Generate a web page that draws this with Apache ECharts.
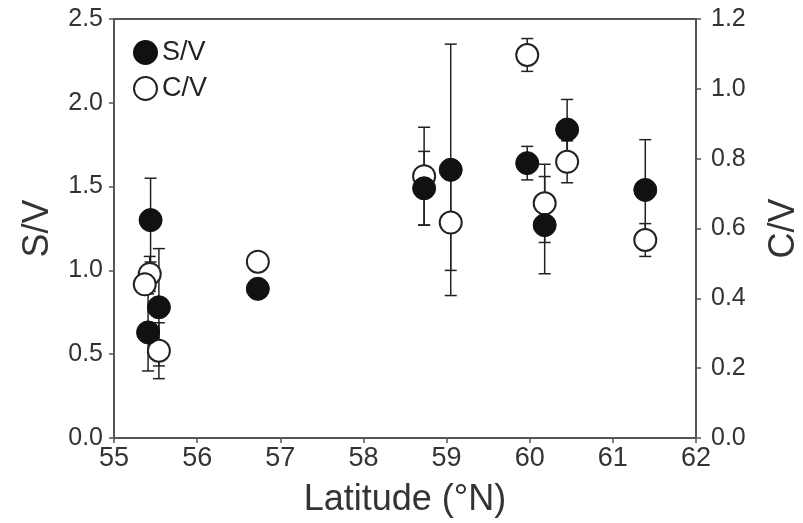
<!DOCTYPE html>
<html>
<head>
<meta charset="utf-8">
<script src="https://cdn.jsdelivr.net/npm/echarts@6/dist/echarts.min.js"></script>
<style>
  html,body{margin:0;padding:0;background:#fff;}
  #b{width:803px;height:523px;}
</style>
</head>
<body>
<div id="b"></div>
<script>
// S/V (filled circles, left axis)
var svLat = [55.44, 55.41, 55.54, 56.73, 58.73, 59.05, 59.97, 60.18, 60.45, 61.39];
var svVal = [1.30, 0.63, 0.78, 0.89, 1.49, 1.60, 1.64, 1.27, 1.84, 1.48];
var svErr = [0.25, 0.23, 0.35, 0, 0.22, 0.75, 0.10, 0.29, 0.18, 0.30];
// C/V (open circles, right axis)
var cvLat = [55.43, 55.37, 55.54, 56.73, 58.73, 59.05, 59.97, 60.18, 60.45, 61.39];
var cvVal = [0.47, 0.44, 0.25, 0.505, 0.75, 0.617, 1.097, 0.672, 0.791, 0.567];
var cvErr = [0.05, 0, 0.08, 0, 0.14, 0.137, 0.047, 0.112, 0.06, 0.047];

var font = 'Liberation Sans, Arial, sans-serif';

function pts(lat, val){
  return lat.map(function(x,i){ return [x, val[i]]; });
}
function bars(lat, val, err){
  return lat.map(function(x,i){ return [x, val[i]-err[i], val[i]+err[i]]; });
}
function errItem(params, api){
  var x = api.value(0);
  var lo = api.coord([x, api.value(1)]);
  var hi = api.coord([x, api.value(2)]);
  var w = 6;
  var st = {stroke:'#222', lineWidth:1.5};
  return {
    type:'group',
    children:[
      {type:'line', shape:{x1:lo[0], y1:lo[1], x2:hi[0], y2:hi[1]}, style:st},
      {type:'line', shape:{x1:lo[0]-w, y1:lo[1], x2:lo[0]+w, y2:lo[1]}, style:st},
      {type:'line', shape:{x1:hi[0]-w, y1:hi[1], x2:hi[0]+w, y2:hi[1]}, style:st}
    ]
  };
}

var myChart = echarts.init(document.getElementById('b'));
var axisLine = {show:true, lineStyle:{color:'#555', width:2}};
var axisTick = {show:true, length:5, lineStyle:{color:'#555', width:1.5}};
var fmt = function(v){return v.toFixed(1);};
var nameStyle = {color:'#333', fontSize:36, fontFamily:font};

option = {
  animation:false,
  grid:{left:114, right:107, top:19, bottom:85, outerBoundsMode:'none',
    show:true, borderColor:'#555', borderWidth:2},
  legend:{
    data:['S/V','C/V'],
    orient:'vertical',
    left:128, top:34,
    itemWidth:23, itemHeight:23, itemGap:9, padding:[5,5,5,5],
    textStyle:{color:'#222', fontSize:27, fontFamily:font}
  },
  xAxis:{
    type:'value', min:55, max:62, interval:1,
    name:'Latitude (°N)', nameLocation:'middle', nameGap:44,
    nameTextStyle:nameStyle,
    axisLine:axisLine, axisTick:axisTick,
    axisLabel:{color:'#333', fontSize:27, fontFamily:font, margin:7},
    splitLine:{show:false}
  },
  yAxis:[
    {
      type:'value', min:0, max:2.5, interval:0.5,
      name:'S/V', nameLocation:'middle', nameGap:58, nameRotate:90,
      nameTextStyle:nameStyle,
      axisLine:axisLine, axisTick:axisTick,
      axisLabel:{color:'#333', fontSize:25, fontFamily:font, margin:11, formatter:fmt},
      splitLine:{show:false}
    },
    {
      type:'value', min:0, max:1.2, interval:0.2, position:'right',
      name:'C/V', nameLocation:'middle', nameGap:70, nameRotate:90,
      nameTextStyle:nameStyle,
      axisLine:axisLine, axisTick:axisTick,
      axisLabel:{color:'#333', fontSize:25, fontFamily:font, margin:15, formatter:fmt},
      splitLine:{show:false}
    }
  ],
  series:[
    {type:'custom', yAxisIndex:1, renderItem:errItem, data:bars(cvLat, cvVal, cvErr), z:2, silent:true},
    {type:'custom', yAxisIndex:0, renderItem:errItem, data:bars(svLat, svVal, svErr), z:2, silent:true},
    {
      name:'C/V', type:'scatter', yAxisIndex:1, symbol:'circle', symbolSize:22,
      itemStyle:{color:'#fff', borderColor:'#222', borderWidth:2, opacity:1},
      data:pts(cvLat, cvVal), z:3
    },
    {
      name:'S/V', type:'scatter', yAxisIndex:0, symbol:'circle', symbolSize:23,
      itemStyle:{color:'#111', borderColor:'#111', borderWidth:1, opacity:1},
      data:pts(svLat, svVal), z:4
    }
  ]
};
option && myChart.setOption(option);
</script>
</body>
</html>
